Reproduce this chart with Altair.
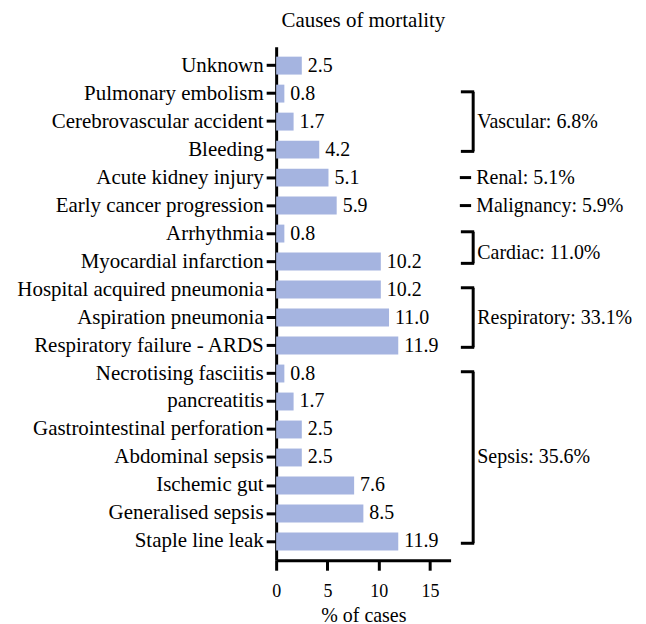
import altair as alt
import pandas as pd

causes = [
    "Unknown", "Pulmonary embolism", "Cerebrovascular accident", "Bleeding",
    "Acute kidney injury", "Early cancer progression", "Arrhythmia",
    "Myocardial infarction", "Hospital acquired pneumonia", "Aspiration pneumonia",
    "Respiratory failure - ARDS", "Necrotising fasciitis", "pancreatitis",
    "Gastrointestinal perforation", "Abdominal sepsis", "Ischemic gut",
    "Generalised sepsis", "Staple line leak",
]
values = [2.5, 0.8, 1.7, 4.2, 5.1, 5.9, 0.8, 10.2, 10.2, 11.0, 11.9,
          0.8, 1.7, 2.5, 2.5, 7.6, 8.5, 11.9]

group_names = ["Vascular: 6.8%", "Cardiac: 11.0%", "Respiratory: 33.1%", "Sepsis: 35.6%"]
group_start = ["Pulmonary embolism", "Arrhythmia", "Hospital acquired pneumonia", "Necrotising fasciitis"]
group_end = ["Bleeding", "Myocardial infarction", "Respiratory failure - ARDS", "Staple line leak"]
group_mid = ["Cerebrovascular accident", None, "Aspiration pneumonia", "Abdominal sepsis"]

single_names = ["Renal: 5.1%", "Malignancy: 5.9%"]
single_cat = ["Acute kidney injury", "Early cancer progression"]

FONT = "Liberation Serif"
BAR = "#A5B4E0"

df = pd.DataFrame({"cause": causes, "value": values})
gdf = pd.DataFrame({"name": group_names, "start": group_start, "end": group_end,
                    "mid": group_mid})
sdf = pd.DataFrame({"name": single_names, "cat": single_cat})

xscale = alt.Scale(domain=[0, 17], nice=False)
yscale = alt.Scale(domain=causes, paddingInner=0.36, paddingOuter=0.35)

X_TICK0, X_BRACKET, X_LABEL = 18.0, 19.2, 19.6

y_enc = alt.Y(
    "cause:N", scale=yscale, sort=causes,
    axis=alt.Axis(title=None, labelFontSize=21, labelColor="black",
                  domainWidth=3, domainColor="black", tickWidth=3, tickColor="black",
                  tickSize=10, labelPadding=3, labelLimit=400),
)
x_enc = alt.X(
    "value:Q", scale=xscale,
    axis=alt.Axis(title="% of cases", values=[0, 5, 10, 15],
                  titleFontSize=20, titleFontWeight="normal", titleColor="black",
                  labelFontSize=18, labelColor="black",
                  domainWidth=3, domainColor="black", tickWidth=3, tickColor="black",
                  tickSize=10, labelPadding=12, titlePadding=5, grid=False, labelFlush=False),
)

bars = alt.Chart(df).mark_bar(color=BAR).encode(x=x_enc, y=y_enc)
labels = alt.Chart(df).mark_text(align="left", baseline="middle", dx=6,
                                 fontSize=20, color="black").encode(
    x="value:Q", y=alt.Y("cause:N", scale=yscale, sort=causes),
    text=alt.Text("value:Q", format=".1f"))

base_g = alt.Chart(gdf)
vert = base_g.mark_rule(strokeWidth=3, color="black", clip=False).encode(
    x=alt.datum(X_BRACKET),
    y=alt.Y("start:N", scale=yscale, bandPosition=0.4),
    y2=alt.Y2("end:N", bandPosition=0.6),
)
top_tick = base_g.mark_rule(strokeWidth=3, color="black", clip=False).encode(
    x=alt.datum(X_TICK0), x2=alt.datum(X_BRACKET + 0.1),
    y=alt.Y("start:N", scale=yscale, bandPosition=0.4),
)
bot_tick = base_g.mark_rule(strokeWidth=3, color="black", clip=False).encode(
    x=alt.datum(X_TICK0), x2=alt.datum(X_BRACKET + 0.1),
    y=alt.Y("end:N", scale=yscale, bandPosition=0.6),
)
glabels = base_g.transform_filter("datum.mid != null").mark_text(
    align="left", baseline="middle", fontSize=20, color="black", clip=False
).encode(x=alt.datum(X_LABEL), y=alt.Y("mid:N", scale=yscale), text="name:N")
cardiac_label = base_g.transform_filter("datum.mid == null").mark_text(
    align="left", baseline="middle", fontSize=20, color="black", clip=False
).encode(x=alt.datum(X_LABEL), y=alt.Y("end:N", scale=yscale, bandPosition=0.0),
         text="name:N")

base_s = alt.Chart(sdf)
dash = base_s.mark_rule(strokeWidth=3, color="black", clip=False).encode(
    x=alt.datum(X_TICK0 - 0.1), x2=alt.datum(19.0), y=alt.Y("cat:N", scale=yscale))
slabels = base_s.mark_text(align="left", baseline="middle", fontSize=20,
                           color="black", clip=False).encode(
    x=alt.datum(19.5), y=alt.Y("cat:N", scale=yscale), text="name:N")

chart = alt.layer(bars, labels, vert, top_tick, bot_tick, glabels, cardiac_label,
                  dash, slabels).properties(
    width=175, height=515,
    title=alt.TitleParams("Causes of mortality", fontSize=21,
                          fontWeight="normal", color="black", offset=16),
    padding={"left": 8, "top": 1, "right": 5, "bottom": 2},
).configure(font=FONT).configure_view(stroke=None)

chart.save("out.html", embed_options={"renderer": "svg", "actions": False})
